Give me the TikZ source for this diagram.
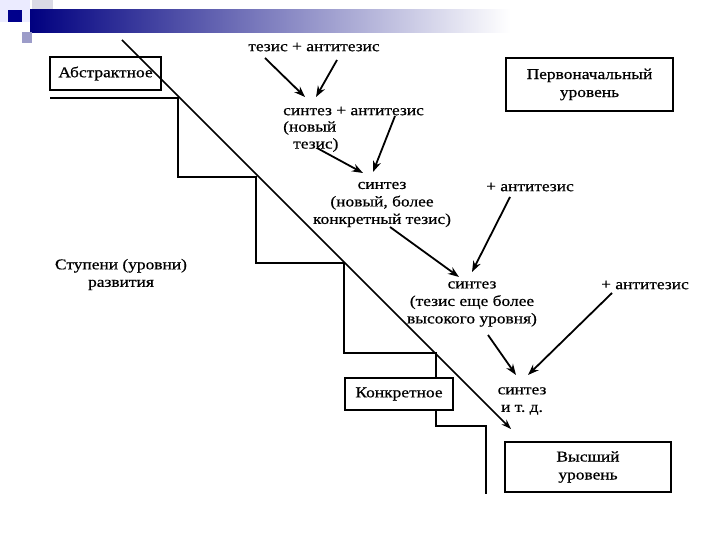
\documentclass[tikz,border=0pt]{standalone}
\usepackage{fontspec}
\setmainfont{Liberation Serif}[FakeStretch=1.16, FakeBold=0.6]
\usetikzlibrary{arrows.meta}
\begin{document}
\begin{tikzpicture}[x=1pt,y=-1pt,
  txt/.style={font=\fontsize{15}{17.5}\selectfont, inner sep=0pt, align=center},
  box/.style={draw, line width=1.9pt, inner sep=0pt, align=center, font=\fontsize{15}{18}\selectfont},
  stair/.style={line width=2.2pt},
  arr/.style={line width=1.8pt, -{Stealth[length=11pt,width=8pt]}},
  diag/.style={line width=1.5pt, -{Stealth[length=10pt,width=7pt]}}
]
\useasboundingbox (0,0) rectangle (720,540);
% decoration
\fill[white] (0,0) rectangle (720,540);
\fill[blue!8!white] (0,0) rectangle (30,22);
\fill[blue!18!gray!25] (32,0) rectangle (53,20);
\shade[left color=blue!50!black, right color=white] (30,10) rectangle (510,33);
\fill[blue!55!black] (8,10) rectangle (22,22);
\fill[blue!30!gray!60] (22,32) rectangle (32,43);

% boxes
\node[box, minimum width=111pt, minimum height=33pt] (abs) at (105.5,73.5) {Абстрактное};
\node[box, minimum width=167pt, minimum height=53pt] (perv) at (589.5,84.5) {Первоначальный\\уровень};
\node[box, minimum width=108pt, minimum height=32pt] (konk) at (399,394) {Конкретное};
\node[box, minimum width=166pt, minimum height=50pt] (vys) at (588,467) {Высший\\уровень};

% texts
\node[txt] (t1) at (314,47) {тезис + антитезис};
\node[txt, anchor=west] (s1a) at (283,111) {синтез + антитезис};
\node[txt, anchor=west] (s1b) at (283,128) {(новый};
\node[txt, anchor=west] (s1c) at (293,145) {тезис)};
\node[txt] (s2) at (382,204.5) {синтез\\(новый, более\\конкретный тезис)};
\node[txt] (a2) at (530,187) {+ антитезис};
\node[txt] (s3) at (472,304) {синтез\\(тезис еще более\\высокого уровня)};
\node[txt] (a3) at (645,285) {+ антитезис};
\node[txt] (s4) at (522,401) {синтез\\и т.\ д.};
\node[txt] (stup) at (121,274.5) {Ступени (уровни)\\развития};

% staircase
\coordinate (st0) at (50,98);
\coordinate (st1) at (436,378);
\coordinate (st2) at (436,410);
\draw[stair] (st0) -- (178,98) -- (178,177) -- (256,177) -- (256,263)
  -- (344,263) -- (344,353) -- (436,353) -- (st1);
\draw[stair] (st2) -- (436,426) -- (486,426) -- (486,494);

% arrow endpoints
\coordinate (p1) at (265,58);   \coordinate (q1) at (305,97);
\coordinate (p2) at (337,60);   \coordinate (q2) at (316,97);
\coordinate (p3) at (317,148);  \coordinate (q3) at (363,173);
\coordinate (p4) at (395,116);  \coordinate (q4) at (373,172);
\coordinate (p5) at (390,227);  \coordinate (q5) at (459,277);
\coordinate (p6) at (510,197);  \coordinate (q6) at (472,272);
\coordinate (p7) at (488,335);  \coordinate (q7) at (516,375);
\coordinate (p8) at (612,293);  \coordinate (q8) at (528,375);
\coordinate (d0) at (122,40);   \coordinate (d1) at (511,429);

\draw[arr] (p1) -- (q1);
\draw[arr] (p2) -- (q2);
\draw[arr] (p3) -- (q3);
\draw[arr] (p4) -- (q4);
\draw[arr] (p5) -- (q5);
\draw[arr] (p6) -- (q6);
\draw[arr] (p7) -- (q7);
\draw[arr] (p8) -- (q8);
\draw[diag] (d0) -- (d1);
\end{tikzpicture}
\end{document}
